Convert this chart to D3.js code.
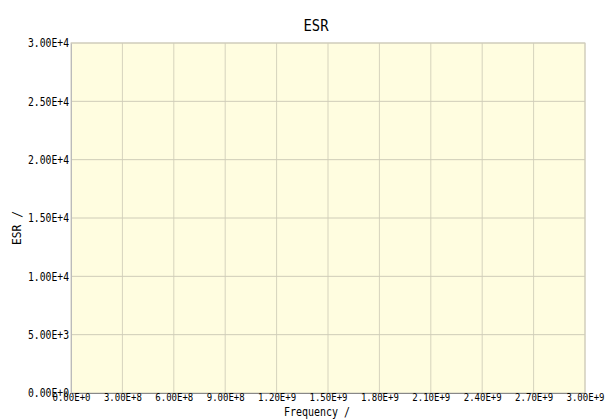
<!DOCTYPE html>
<html>
<head>
<meta charset="utf-8">
<script src="https://cdn.jsdelivr.net/npm/d3@7"></script>
<style>
  body { margin: 0; background: #fff; }
  text { font-family: "DejaVu Sans Mono", "Liberation Mono", monospace; fill: #000; }
</style>
</head>
<body>
<svg id="chart" width="608" height="419"></svg>
<script>
// axis ranges and tick labels (the chart has no data series)
const xTicks = [0, 3e8, 6e8, 9e8, 1.2e9, 1.5e9, 1.8e9, 2.1e9, 2.4e9, 2.7e9, 3e9]
const yTicks = [0, 5000, 10000, 15000, 20000, 25000, 30000]
const xLabels = ['0.00E+0', '3.00E+8', '6.00E+8', '9.00E+8', '1.20E+9', '1.50E+9',
  '1.80E+9', '2.10E+9', '2.40E+9', '2.70E+9', '3.00E+9']
const yLabels = ['0.00E+0', '5.00E+3', '1.00E+4', '1.50E+4', '2.00E+4', '2.50E+4', '3.00E+4']
const title = 'ESR'
const xTitle = 'Frequency /'
const yTitle = 'ESR /'

const margin = { top: 43, right: 23, bottom: 26, left: 71 }
const width = 608 - margin.left - margin.right
const height = 419 - margin.top - margin.bottom

const svg = d3.select('#chart')

// scales
const x = d3.scaleLinear().domain([0, 3e9]).range([0, width])
const y = d3.scaleLinear().domain([0, 30000]).range([height, 0])

const g = svg.append('g')
  .attr('transform', `translate(${margin.left},${margin.top})`)

// plot background
g.append('rect')
  .attr('width', width)
  .attr('height', height)
  .attr('fill', '#fffde0')

// vertical grid
g.append('g')
  .selectAll('line')
  .data(xTicks.slice(1))
  .enter().append('line')
  .attr('x1', d => x(d)).attr('x2', d => x(d))
  .attr('y1', 0).attr('y2', height)
  .attr('stroke', '#d6d3bd')

// horizontal grid
g.append('g')
  .selectAll('line')
  .data(yTicks.slice(1))
  .enter().append('line')
  .attr('x1', 0).attr('x2', width)
  .attr('y1', d => y(d)).attr('y2', d => y(d))
  .attr('stroke', '#cfccb8')

// plot border
g.append('rect')
  .attr('width', width)
  .attr('height', height)
  .attr('fill', 'none')
  .attr('stroke', '#cfccbc')

// x axis
const xAxis = g.append('g')
  .attr('transform', `translate(0,${height})`)
  .call(d3.axisBottom(x).tickValues(xTicks).tickSize(0).tickPadding(1)
    .tickFormat((d, i) => xLabels[i]))
xAxis.select('.domain').attr('stroke', '#888')
xAxis.selectAll('text')
  .attr('font-size', 10).attr('font-family', null)
  .attr('textLength', 38).attr('lengthAdjust', 'spacingAndGlyphs')

// y axis
const yAxis = g.append('g')
  .call(d3.axisLeft(y).tickValues(yTicks).tickSize(0).tickPadding(2)
    .tickFormat((d, i) => yLabels[i]))
yAxis.select('.domain').attr('stroke', '#bbb')
yAxis.selectAll('text')
  .attr('font-size', 12).attr('font-family', null)
  .attr('textLength', 41).attr('lengthAdjust', 'spacingAndGlyphs')

// titles
svg.append('text')
  .attr('x', 316)
  .attr('y', 31)
  .attr('text-anchor', 'middle')
  .attr('font-size', 15)
  .attr('textLength', 25).attr('lengthAdjust', 'spacingAndGlyphs')
  .text(title)

svg.append('text')
  .attr('x', 317)
  .attr('y', 416)
  .attr('text-anchor', 'middle')
  .attr('font-size', 12)
  .attr('textLength', 66).attr('lengthAdjust', 'spacingAndGlyphs')
  .text(xTitle)

svg.append('text')
  .attr('transform', `translate(21,228) rotate(-90)`)
  .attr('text-anchor', 'middle')
  .attr('font-size', 13)
  .attr('textLength', 34).attr('lengthAdjust', 'spacingAndGlyphs')
  .text(yTitle)
</script>
</body>
</html>
